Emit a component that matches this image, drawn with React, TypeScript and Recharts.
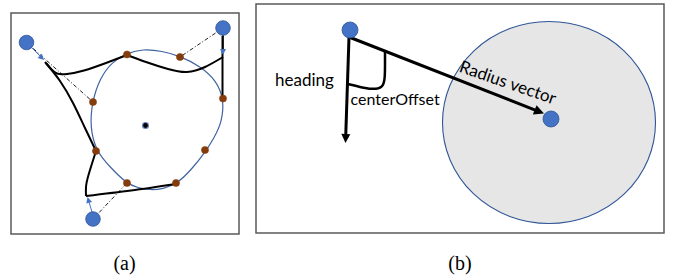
import React from 'react';
import { ComposedChart, XAxis, YAxis, Scatter, ReferenceArea, Curve } from 'recharts';

type Pt = { x: number; y: number };
type LabelPt = { x: number; y: number; label: string };

const WIDTH = 678;
const HEIGHT = 278;

// ---------- panel (a) ----------
const robotsA: Pt[] = [
  { x: 26.5, y: 42.5 },
  { x: 223, y: 28 },
  { x: 93, y: 219 },
];
const contactPointsA: Pt[] = [
  { x: 127, y: 54.5 },
  { x: 180, y: 57 },
  { x: 223, y: 98.5 },
  { x: 93, y: 102 },
  { x: 205, y: 150 },
  { x: 96, y: 151 },
  { x: 127, y: 183 },
  { x: 176, y: 183 },
];
const shapeCenterA: Pt[] = [{ x: 145.5, y: 125.5 }];
const shapeOutlineA: Pt[] = [
  { x: 127, y: 53 }, { x: 143, y: 49 }, { x: 162, y: 51 }, { x: 180, y: 56 },
  { x: 200, y: 66 }, { x: 216, y: 80 }, { x: 224, y: 99 }, { x: 222, y: 122 },
  { x: 214, y: 138 }, { x: 206, y: 151 }, { x: 192, y: 169 }, { x: 177, y: 184 },
  { x: 163, y: 189 }, { x: 150, y: 190 }, { x: 138, y: 188 }, { x: 126, y: 183 },
  { x: 110, y: 167 }, { x: 96, y: 151 }, { x: 90, y: 127 }, { x: 92, y: 102 },
  { x: 100, y: 78 }, { x: 112, y: 62 },
];
const guideTL: Pt[] = [{ x: 26.5, y: 42.5 }, { x: 93, y: 102 }];
const guideTR: Pt[] = [{ x: 223, y: 28 }, { x: 180, y: 57 }];
const guideB: Pt[] = [{ x: 93, y: 219 }, { x: 127, y: 183 }];
const headingTL: Pt[] = [{ x: 31, y: 47 }, { x: 44, y: 60 }];
const headingTR: Pt[] = [{ x: 223, y: 35 }, { x: 223, y: 55 }];
const headingBot: Pt[] = [{ x: 92, y: 212 }, { x: 87.5, y: 197 }];
const trajTopLeft: Pt[] = [
  { x: 45, y: 62 }, { x: 51, y: 69 }, { x: 57, y: 73.5 }, { x: 67, y: 74 },
  { x: 84, y: 70.5 }, { x: 106, y: 63 }, { x: 127, y: 55 },
];
const trajTopRight: Pt[] = [
  { x: 127, y: 55 }, { x: 146, y: 62 }, { x: 168, y: 69 }, { x: 187, y: 72 },
  { x: 205, y: 67 }, { x: 223, y: 57 },
];
const trajRight: Pt[] = [{ x: 222.5, y: 36 }, { x: 222.5, y: 99 }];
const trajLeft: Pt[] = [
  { x: 46, y: 63 }, { x: 60, y: 81 }, { x: 73, y: 103 }, { x: 85, y: 128 }, { x: 96, y: 151 },
];
const trajLowLeft: Pt[] = [{ x: 96, y: 151 }, { x: 88.5, y: 175 }, { x: 86, y: 187 }, { x: 86, y: 196 }];
const trajBottom: Pt[] = [{ x: 86, y: 196 }, { x: 131, y: 190.5 }, { x: 176, y: 184 }];

// ---------- panel (b) ----------
const robotB: Pt[] = [{ x: 350, y: 30 }];
const targetB: Pt[] = [{ x: 551, y: 119 }];
const sensingAreaB: Pt[] = [{ x: 549, y: 122.5 }];
const headingVecB: Pt[] = [{ x: 349, y: 37 }, { x: 345.5, y: 143 }];
const radiusVecB: Pt[] = [{ x: 349, y: 37 }, { x: 544, y: 113.5 }];
const offsetArcB: Pt[] = [
  { x: 348, y: 84 }, { x: 360, y: 87 }, { x: 372, y: 89.5 }, { x: 383, y: 88 },
  { x: 385, y: 78 }, { x: 385, y: 64 }, { x: 385, y: 52 },
];

// ---------- texts ----------
const labelHeading: LabelPt[] = [{ x: 275, y: 86, label: 'heading' }];
const labelOffset: LabelPt[] = [{ x: 350.5, y: 105, label: 'centerOffset' }];
const labelRadius: LabelPt[] = [{ x: 506, y: 88, label: 'Radius vector' }];
const captions: LabelPt[] = [
  { x: 124.5, y: 270, label: '(a)' },
  { x: 460, y: 270, label: '(b)' },
];

const BLUE_FILL = '#4472c4';
const BLUE_EDGE = '#2f5597';
const BROWN = '#843c0c';
const OUTLINE = '#3f63a0';

const hidden = () => <g />;

type LineOpts = {
  stroke: string;
  width: number;
  type?: any;
  dash?: string;
  arrow?: { len: number; half: number; fill: string };
};

const makeLine = (o: LineOpts) => (props: any) => {
  const pts: Pt[] = (props.points || []).map((p: any) => ({ x: p.x, y: p.y }));
  if (pts.length < 2) return <g />;
  let head: React.ReactNode = null;
  if (o.arrow) {
    const a = pts[pts.length - 2];
    const b = pts[pts.length - 1];
    const dx = b.x - a.x;
    const dy = b.y - a.y;
    const d = Math.hypot(dx, dy) || 1;
    const ux = dx / d;
    const uy = dy / d;
    const bx = b.x - ux * o.arrow.len;
    const by = b.y - uy * o.arrow.len;
    const h = o.arrow.half;
    head = (
      <polygon
        points={`${b.x},${b.y} ${bx - uy * h},${by + ux * h} ${bx + uy * h},${by - ux * h}`}
        fill={o.arrow.fill}
      />
    );
    pts[pts.length - 1] = { x: b.x - ux * o.arrow.len * 0.6, y: b.y - uy * o.arrow.len * 0.6 };
  }
  return (
    <g>
      <Curve
        points={pts as any}
        type={o.type || 'linear'}
        stroke={o.stroke}
        strokeWidth={o.width}
        strokeDasharray={o.dash}
        strokeLinejoin="round"
        fill="none"
      />
      {head}
    </g>
  );
};

const dot = (r: number, fill: string, stroke: string, sw: number) => (props: any) =>
  <circle cx={props.cx} cy={props.cy} r={r} fill={fill} stroke={stroke} strokeWidth={sw} />;

const ellipseShape = (props: any) => (
  <ellipse cx={props.cx} cy={props.cy} rx={106.5} ry={101} fill="#e6e6e6" stroke={BLUE_EDGE} strokeWidth={1.1} />
);

const textShape = (style: any, rotate = 0) => (props: any) => (
  <text
    x={props.cx}
    y={props.cy}
    transform={rotate ? `rotate(${rotate} ${props.cx} ${props.cy})` : undefined}
    {...style}
  >
    {props.payload.label}
  </text>
);

const sansStyle = { fontFamily: 'Lato, "Open Sans", sans-serif', fontSize: 17, fill: '#000' };
const serifStyle = { fontFamily: '"Liberation Serif", "DejaVu Serif", serif', fontSize: 20, fill: '#000', textAnchor: 'middle' };

const lineSeries = (key: string, data: Pt[], o: LineOpts) => (
  <Scatter key={key} data={data} shape={hidden} line={makeLine(o)} isAnimationActive={false} />
);

export default function App() {
  return (
    <div style={{ position: 'absolute', left: 0, top: 0, width: WIDTH, height: HEIGHT, background: '#fff' }}>
      <ComposedChart width={WIDTH} height={HEIGHT} margin={{ top: 0, right: 0, bottom: 0, left: 0 }}>
        <XAxis type="number" dataKey="x" domain={[0, WIDTH]} hide allowDataOverflow />
        <YAxis type="number" dataKey="y" domain={[0, HEIGHT]} reversed hide allowDataOverflow />

        <ReferenceArea x1={11} x2={239} y1={13} y2={234} fill="none" fillOpacity={0} stroke="#595959" strokeWidth={1.5} ifOverflow="visible" />
        <ReferenceArea x1={256} x2={664} y1={4} y2={233} fill="none" fillOpacity={0} stroke="#595959" strokeWidth={1.5} ifOverflow="visible" />

        {/* panel (a) */}
        {lineSeries('outline', shapeOutlineA, { stroke: OUTLINE, width: 1.2, type: 'basisClosed' })}
        {lineSeries('gTL', guideTL, { stroke: '#222', width: 1, dash: '4 2 1 2' })}
        {lineSeries('gTR', guideTR, { stroke: '#222', width: 1, dash: '4 2 1 2' })}
        {lineSeries('gB', guideB, { stroke: '#222', width: 1, dash: '4 2 1 2' })}
        {lineSeries('tTL', trajTopLeft, { stroke: '#000', width: 2, type: 'natural' })}
        {lineSeries('tTR', trajTopRight, { stroke: '#000', width: 2, type: 'natural' })}
        {lineSeries('tR', trajRight, { stroke: '#000', width: 2 })}
        {lineSeries('tL', trajLeft, { stroke: '#000', width: 2, type: 'natural' })}
        {lineSeries('tLL', trajLowLeft, { stroke: '#000', width: 2, type: 'natural' })}
        {lineSeries('tB', trajBottom, { stroke: '#000', width: 2, type: 'natural' })}
        {lineSeries('hTL', headingTL, { stroke: BLUE_FILL, width: 1, arrow: { len: 6, half: 3, fill: BLUE_FILL } })}
        {lineSeries('hTR', headingTR, { stroke: '#000', width: 1.5, arrow: { len: 6, half: 3, fill: BLUE_FILL } })}
        {lineSeries('hB', headingBot, { stroke: BLUE_FILL, width: 1, arrow: { len: 6, half: 3, fill: BLUE_FILL } })}
        <Scatter data={contactPointsA} shape={dot(3.6, BROWN, BROWN, 0.5)} isAnimationActive={false} />
        <Scatter data={robotsA} shape={dot(7.3, BLUE_FILL, BLUE_EDGE, 0.8)} isAnimationActive={false} />
        <Scatter data={shapeCenterA} shape={dot(3, '#000', '#6f8fc8', 1.2)} isAnimationActive={false} />

        {/* panel (b) */}
        <Scatter data={sensingAreaB} shape={ellipseShape} isAnimationActive={false} />
        {lineSeries('arc', offsetArcB, { stroke: '#000', width: 2.5, type: 'basis' })}
        {lineSeries('head', headingVecB, { stroke: '#000', width: 3, arrow: { len: 9, half: 4.5, fill: '#000' } })}
        {lineSeries('rad', radiusVecB, { stroke: '#000', width: 3, arrow: { len: 10, half: 5, fill: '#000' } })}
        <Scatter data={robotB} shape={dot(8, BLUE_FILL, BLUE_EDGE, 0.8)} isAnimationActive={false} />
        <Scatter data={targetB} shape={dot(8, BLUE_FILL, BLUE_EDGE, 0.8)} isAnimationActive={false} />

        {/* texts */}
        <Scatter data={labelHeading} shape={textShape(sansStyle)} isAnimationActive={false} />
        <Scatter data={labelOffset} shape={textShape({ ...sansStyle, fontSize: 16 })} isAnimationActive={false} />
        <Scatter data={labelRadius} shape={textShape({ ...sansStyle, textAnchor: 'middle' }, 19)} isAnimationActive={false} />
        <Scatter data={captions} shape={textShape(serifStyle)} isAnimationActive={false} />
      </ComposedChart>
    </div>
  );
}
